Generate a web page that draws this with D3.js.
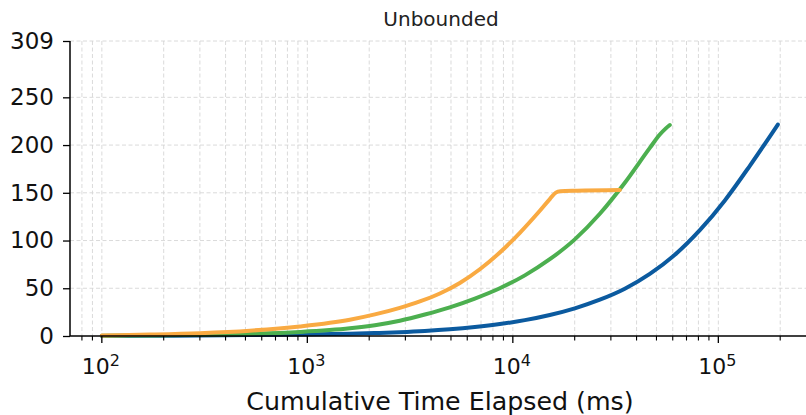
<!DOCTYPE html>
<html>
<head>
<meta charset="utf-8">
<script src="https://cdn.jsdelivr.net/npm/d3@7"></script>
<style>
  html, body { margin: 0; padding: 0; background: #fff; }
  svg { display: block; font-family: "DejaVu Sans", sans-serif; }
</style>
</head>
<body>
<svg id="chart" width="806" height="415"></svg>
<script>
// Cumulative time (ms) and value for each run
const blueTimes   = [100, 171, 300, 525, 919, 1610, 2131, 2819, 3731, 4936, 6534, 8644, 11440, 15136, 20030, 26510, 35080, 46420, 61430, 81280, 107570, 142300, 194800];
const blueValues  = [0, 0.25, 0.55, 1.0, 1.6, 2.4, 3.1, 4.0, 5.25, 7.0, 9.4, 12.5, 16.6, 22, 29, 38, 49.5, 65, 85, 110.8, 142, 178.3, 221.5];

const greenTimes  = [100, 171, 300, 525, 919, 1610, 2131, 2819, 3731, 4936, 6534, 8644, 11440, 15136, 20030, 26510, 35080, 46420, 51920, 55540, 58070];
const greenValues = [0.2, 0.6, 1.2, 2.2, 4.2, 8, 11.3, 16, 22.5, 30, 39.2, 50, 63.5, 80.4, 101.2, 128, 160.5, 197, 211, 217.5, 221];

const orangeTimes  = [100, 171, 300, 525, 919, 1610, 2131, 2819, 3527, 4414, 5522, 6909, 8644, 10818, 13533, 15136, 16189, 17020, 20500, 33170];
const orangeValues = [0.5, 1.5, 3, 5.6, 10, 17, 22.6, 29.5, 36.2, 44.5, 55.5, 69.9, 87.4, 108.1, 131.2, 143.4, 150.2, 151.6, 152.2, 153];

const yTicks = [0, 50, 100, 150, 200, 250, 309];
const xMajorExponents = [2, 3, 4, 5];

const titleText = "Unbounded";
const xLabelText = "Cumulative Time Elapsed (ms)";

const colors = { blue: "#0b5a9f", green: "#4caf4f", orange: "#f9aa42" };

const svg = d3.select("#chart");
const plotLeft = 70, plotBottom = 336, plotTop = 41;
const decadePx = 205.5;
const xDom = [70, 2.9e5];
const plotRight = plotLeft + (Math.log10(xDom[1]) - Math.log10(xDom[0])) * decadePx;

const x = d3.scaleLog().domain(xDom).range([plotLeft, plotRight]);
const y = d3.scaleLinear().domain([0, 309]).range([plotBottom, plotTop]);

// minor + major positions on the log axis
const minorTicks = [];
for (let e = 1; e <= 5; e++) {
  for (let m = 2; m <= 9; m++) {
    const v = m * Math.pow(10, e);
    if (v > xDom[0] && v < xDom[1]) minorTicks.push(v);
  }
}
const majorTicks = xMajorExponents.map(e => Math.pow(10, e));

const grid = svg.append("g").attr("stroke", "#d6d6d6").attr("stroke-width", 0.9)
  .attr("stroke-dasharray", "4,2.5").attr("fill", "none");

grid.selectAll("line.vx").data(minorTicks.concat(majorTicks)).join("line")
  .attr("x1", d => x(d)).attr("x2", d => x(d))
  .attr("y1", y(309)).attr("y2", y(0));

grid.selectAll("line.hy").data(yTicks.filter(d => d > 0)).join("line")
  .attr("x1", plotLeft).attr("x2", plotRight)
  .attr("y1", d => y(d)).attr("y2", d => y(d));

// series
const line = d3.line().x(d => x(d[0])).y(d => y(d[1])).curve(d3.curveMonotoneX);
const series = [
  { times: blueTimes, values: blueValues, color: colors.blue },
  { times: greenTimes, values: greenValues, color: colors.green },
  { times: orangeTimes, values: orangeValues, color: colors.orange }
];
series.forEach(s => {
  svg.append("path")
    .datum(s.times.map((t, i) => [t, s.values[i]]))
    .attr("d", line)
    .attr("fill", "none")
    .attr("stroke", s.color)
    .attr("stroke-width", 4)
    .attr("stroke-linecap", "round")
    .attr("stroke-linejoin", "round");
});

// y axis
const yAxis = d3.axisLeft(y).tickValues(yTicks).tickSize(7).tickPadding(9).tickFormat(d3.format("d"));
const gy = svg.append("g").attr("transform", `translate(${plotLeft},0)`).call(yAxis);
gy.select(".domain").attr("stroke", "#000").attr("stroke-width", 1.5).attr("d", `M0,${y(309)}V${y(0)}`);
gy.selectAll(".tick line").attr("stroke", "#000").attr("stroke-width", 1.3);
gy.selectAll(".tick text").attr("font-size", 23).attr("fill", "#111")
  .attr("font-family", "DejaVu Sans, sans-serif");

// x axis
const gx = svg.append("g").attr("transform", `translate(0,${plotBottom})`);
gx.append("line").attr("x1", plotLeft).attr("x2", 806).attr("y1", 0).attr("y2", 0)
  .attr("stroke", "#000").attr("stroke-width", 1.5);
gx.selectAll("line.minor").data(minorTicks).join("line")
  .attr("x1", d => x(d)).attr("x2", d => x(d)).attr("y1", 0).attr("y2", 4.5)
  .attr("stroke", "#000").attr("stroke-width", 1.1);
gx.selectAll("line.major").data(majorTicks).join("line")
  .attr("x1", d => x(d)).attr("x2", d => x(d)).attr("y1", 0).attr("y2", 7)
  .attr("stroke", "#000").attr("stroke-width", 1.3);

const labels = gx.selectAll("text.major").data(xMajorExponents).join("text")
  .attr("x", d => x(Math.pow(10, d)) - 1)
  .attr("y", 37.5)
  .attr("text-anchor", "middle")
  .attr("font-size", 22)
  .attr("fill", "#111");
labels.append("tspan").text("10");
labels.append("tspan").attr("dy", -7.5).attr("font-size", 16).text(d => d);

// title and label
svg.append("text").attr("x", 441).attr("y", 26).attr("text-anchor", "middle")
  .attr("font-size", 20).attr("fill", "#222").text(titleText);
svg.append("text").attr("x", 440).attr("y", 410).attr("text-anchor", "middle")
  .attr("font-size", 25.3).attr("fill", "#111").text(xLabelText);
</script>
</body>
</html>
